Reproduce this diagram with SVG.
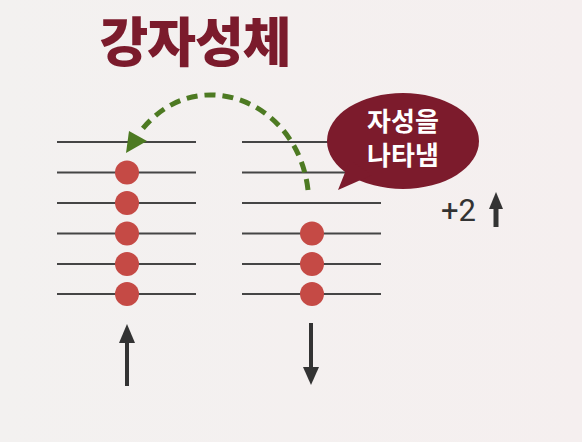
<svg xmlns="http://www.w3.org/2000/svg" width="582" height="442" viewBox="0 0 582 442">
<defs>
<linearGradient id="bg" x1="0" y1="0" x2="1" y2="0">
<stop offset="0" stop-color="#f3f1f0"/>
<stop offset="1" stop-color="#f5efef"/>
</linearGradient>
<style>
.lv{stroke:#454545;stroke-width:2.2;fill:none}
.e{fill:#c54a45}
.ar{stroke:#333;stroke-width:4;fill:none}
.ah{fill:#333}
</style>
</defs>
<rect width="582" height="442" fill="url(#bg)"/>
<text id="title" x="195" y="62" text-anchor="middle" font-family="'Noto Sans CJK KR', sans-serif" font-weight="900" font-size="53" letter-spacing="-1" fill="#7b1b2c">강자성체</text>
<g id="left-levels">
<line class="lv" x1="57" y1="142" x2="196" y2="142"/>
<line class="lv" x1="57" y1="172.5" x2="196" y2="172.5"/>
<line class="lv" x1="57" y1="203" x2="196" y2="203"/>
<line class="lv" x1="57" y1="233.5" x2="196" y2="233.5"/>
<line class="lv" x1="57" y1="264" x2="196" y2="264"/>
<line class="lv" x1="57" y1="294" x2="196" y2="294"/>
<circle class="e" cx="127" cy="172.5" r="12"/>
<circle class="e" cx="127" cy="203" r="12"/>
<circle class="e" cx="127" cy="233.5" r="12"/>
<circle class="e" cx="127" cy="264" r="12"/>
<circle class="e" cx="127" cy="294" r="12"/>
</g>
<g id="right-levels">
<line class="lv" x1="242" y1="142" x2="381" y2="142"/>
<line class="lv" x1="242" y1="172.5" x2="381" y2="172.5"/>
<line class="lv" x1="242" y1="203" x2="381" y2="203"/>
<line class="lv" x1="242" y1="233.5" x2="381" y2="233.5"/>
<line class="lv" x1="242" y1="264" x2="381" y2="264"/>
<line class="lv" x1="242" y1="294" x2="381" y2="294"/>
<circle class="e" cx="312" cy="233.5" r="12"/>
<circle class="e" cx="312" cy="264" r="12"/>
<circle class="e" cx="312" cy="294" r="12"/>
</g>
<g id="connectors">
<path d="M308,190 C298,100 195,60 140,132" fill="none" stroke="#4d7a22" stroke-width="5" stroke-dasharray="11,7"/>
<polygon points="126,153 129,131 147,141" fill="#4d7a22"/>
<line class="ar" x1="127" y1="386" x2="127" y2="340"/>
<polygon class="ah" points="127,324 119,343 135,343"/>
<line class="ar" x1="311" y1="323" x2="311" y2="370"/>
<polygon class="ah" points="311,385 303,367 319,367"/>
</g>
<g id="bubble">
<ellipse cx="403" cy="141" rx="76" ry="48" fill="#7c1b2c"/>
<polygon points="338,190 350,160 372,175" fill="#7c1b2c"/>
<text x="403" y="131" text-anchor="middle" font-family="'Noto Sans CJK KR', sans-serif" font-weight="700" font-size="26" fill="#fff">자성을</text>
<text x="403" y="165" text-anchor="middle" font-family="'Noto Sans CJK KR', sans-serif" font-weight="700" font-size="26" fill="#fff">나타냄</text>
</g>
<g id="spin-label">
<text x="441" y="221" font-family="'Roboto', 'Liberation Sans', sans-serif" font-size="31" fill="#333">+2</text>
<line x1="496" y1="227" x2="496" y2="205" stroke="#333" stroke-width="5"/>
<polygon class="ah" points="496,192 489,209 503,209"/>
</g>
</svg>
